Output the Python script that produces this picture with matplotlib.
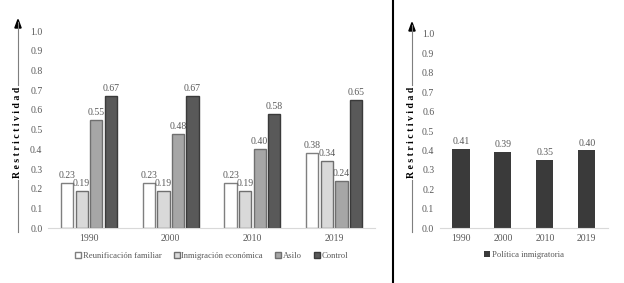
import matplotlib.pyplot as plt
import numpy as np

years = ["1990", "2000", "2010", "2019"]
reunificacion = [0.23, 0.23, 0.23, 0.38]
economica = [0.19, 0.19, 0.19, 0.34]
asilo = [0.55, 0.48, 0.40, 0.24]
control = [0.67, 0.67, 0.58, 0.65]
politica = [0.41, 0.39, 0.35, 0.40]

series_names = ["Reunificación familiar", "Inmigración económica", "Asilo", "Control"]
series_vals = [reunificacion, economica, asilo, control]
face = ["#ffffff", "#d9d9d9", "#a6a6a6", "#595959"]
edge = ["#7f7f7f", "#6f6f6f", "#6f6f6f", "#3a3a3a"]

plt.rcParams['font.family'] = ['Liberation Serif', 'DejaVu Serif']
txt = "#595959"

fig = plt.figure(figsize=(6.24, 2.83), dpi=100)


def style_axis(ax):
    ax.set_ylim(0, 1.0)
    ax.set_yticks(np.arange(0, 1.01, 0.1))
    ax.set_yticklabels([f"{v:.1f}" for v in np.arange(0, 1.01, 0.1)])
    for s in ["top", "right", "left"]:
        ax.spines[s].set_visible(False)
    ax.spines["bottom"].set_color("#d9d9d9")
    ax.tick_params(axis="both", length=0, labelsize=7, colors=txt, pad=4)
    ax.set_xlim(-0.5, 3.5)


# left chart
ax1 = fig.add_axes([0.077, 0.194, 0.524, 0.696])
x = np.arange(len(years))
w = 0.15
step = 0.178
for i, (name, vals) in enumerate(zip(series_names, series_vals)):
    pos = x + (i - 1.5) * step
    bars = ax1.bar(pos, vals, w, color=face[i], edgecolor=edge[i], linewidth=1.0, label=name)
    for b, v in zip(bars, vals):
        ax1.text(b.get_x() + b.get_width() / 2, v + 0.015, f"{v:.2f}", ha="center",
                 va="bottom", fontsize=7, color=txt)
style_axis(ax1)
ax1.set_xticks(x)
ax1.set_xticklabels(years)
ax1.legend(loc="upper center", bbox_to_anchor=(0.5, -0.08), ncol=4, frameon=False,
           fontsize=6.2, labelcolor=txt, handlelength=0.7, handleheight=0.7,
           handletextpad=0.2, columnspacing=1.4)

# right chart
ax2 = fig.add_axes([0.705, 0.194, 0.269, 0.686])
bars = ax2.bar(x, politica, 0.41, color="#3a3a3a", label="Política inmigratoria")
for b, v in zip(bars, politica):
    ax2.text(b.get_x() + b.get_width() / 2, v + 0.015, f"{v:.2f}", ha="center",
             va="bottom", fontsize=7, color=txt)
style_axis(ax2)
ax2.set_xticks(x)
ax2.set_xticklabels(years)
ax2.legend(loc="upper center", bbox_to_anchor=(0.5, -0.08), ncol=1, frameon=False,
           fontsize=6.2, labelcolor=txt, handlelength=0.7, handleheight=0.7,
           handletextpad=0.3)

# y-axis labels with arrow lines
label = " ".join("Restrictividad")
for xl, ytop, ybot, ymid in [(18 / 624, 1 - 28 / 283, 1 - 232 / 283, 1 - 132 / 283),
                            (412 / 624, 1 - 31 / 283, 1 - 232 / 283, 1 - 132 / 283)]:
    fig.text(xl, ymid, label, rotation=90, ha="center", va="center", fontsize=7,
             fontweight="bold", color="black")
    fig.add_artist(plt.Line2D([xl, xl], [ybot, 1 - 180 / 283], color="#7f7f7f", lw=0.8))
    fig.add_artist(plt.Line2D([xl, xl], [1 - 85 / 283, ytop + 0.02], color="#7f7f7f", lw=0.8))
    fig.patches.append(plt.Polygon([[xl - 0.005, ytop], [xl + 0.005, ytop], [xl, ytop + 0.03]],
                                   closed=True, color="black", transform=fig.transFigure))

# divider
fig.add_artist(plt.Line2D([393 / 624, 393 / 624], [0, 1], color="black", lw=1.5))

fig.savefig("out.png", dpi=100)
